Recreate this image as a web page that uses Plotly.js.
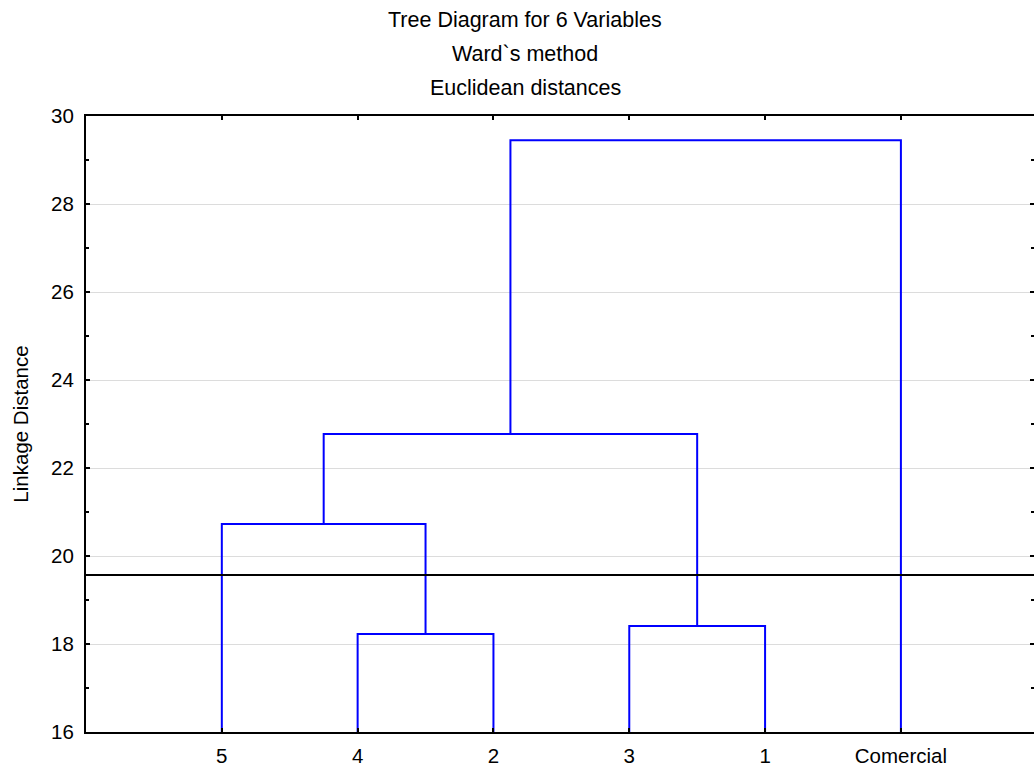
<!DOCTYPE html>
<html>
<head>
<meta charset="utf-8">
<script src="https://cdn.plot.ly/plotly-3.0.1.min.js"></script>
<style>html,body{margin:0;padding:0;background:#fff;}#chart{width:1034px;height:771px;}</style>
</head>
<body>
<div id="chart"></div>
<script>
// Leaf order along the x axis
const leaves = ['5', '4', '2', '3', '1', 'Comercial'];
// Merge steps (Ward's method)
const mergeNames   = ['m1', 'm2', 'm3', 'm4', 'm5'];
const mergeLeft    = ['4', '3', '5', 'm3', 'm4'];
const mergeRight   = ['2', '1', 'm1', 'm2', 'Comercial'];
const mergeHeights = [18.23, 18.41, 20.73, 22.77, 29.45];
// Cut line
const cutHeight = 19.57;
const titleLines = ['Tree Diagram for 6 Variables', 'Ward`s method', 'Euclidean distances'];
const yTicks = [16, 18, 20, 22, 24, 26, 28, 30];

const yMin = 16, yMax = 30;
const pos = {};
leaves.forEach((l, i) => { pos[l] = {x: i + 1, y: yMin}; });
const lx = [], ly = [];
mergeNames.forEach((m, i) => {
  const a = pos[mergeLeft[i]], b = pos[mergeRight[i]], h = mergeHeights[i];
  lx.push(a.x, a.x, b.x, b.x, null);
  ly.push(a.y, h, h, b.y, null);
  pos[m] = {x: (a.x + b.x) / 2, y: h};
});

const font = {family: 'Liberation Sans, Arial, sans-serif', size: 20.5, color: '#000'};
const tfont = {family: 'Liberation Sans, Arial, sans-serif', size: 21.5, color: '#000'};
const traces = [
  {x: lx, y: ly, mode: 'lines', line: {color: '#0000ff', width: 2}, hoverinfo: 'skip', showlegend: false, cliponaxis: false},
  {x: [0, 7], y: [cutHeight, cutHeight], mode: 'lines', line: {color: '#000', width: 2}, hoverinfo: 'skip', showlegend: false}
];

const layout = {
  width: 1034, height: 771,
  margin: {l: 86, r: 0, t: 116, b: 39},
  paper_bgcolor: '#fff', plot_bgcolor: '#fff',
  font: font,
  showlegend: false,
  xaxis: {
    range: [0, 6.98], tickvals: leaves.map((l, i) => i + 1), ticktext: leaves,
    showgrid: false, zeroline: false,
    showline: true, linecolor: '#000', linewidth: 2, mirror: 'ticks',
    ticks: 'inside', ticklen: 4, tickwidth: 2, tickcolor: '#000',
    tickfont: font, ticklabelstandoff: 4
  },
  yaxis: {
    range: [yMin, yMax], tickvals: yTicks,
    showgrid: true, gridcolor: '#dcdcdc', gridwidth: 1, zeroline: false,
    showline: true, linecolor: '#000', linewidth: 2, mirror: 'ticks',
    ticks: 'inside', ticklen: 4, tickwidth: 2, tickcolor: '#000',
    minor: {dtick: 1, tick0: 17, ticks: 'inside', ticklen: 3, tickwidth: 2, tickcolor: '#000', showgrid: false},
    tickfont: font, ticklabelstandoff: 6,
    title: {text: 'Linkage Distance', font: font, standoff: 17}
  },
  annotations: titleLines.map((t, i) => ({
    text: t, xref: 'paper', yref: 'paper', x: (525 - 86) / 948, xanchor: 'center',
    y: 1 + (116 - [20, 54, 88][i]) / 616, yanchor: 'middle', showarrow: false, font: tfont
  }))
};

Plotly.newPlot('chart', traces, layout, {displayModeBar: false, staticPlot: true});
</script>
</body>
</html>
